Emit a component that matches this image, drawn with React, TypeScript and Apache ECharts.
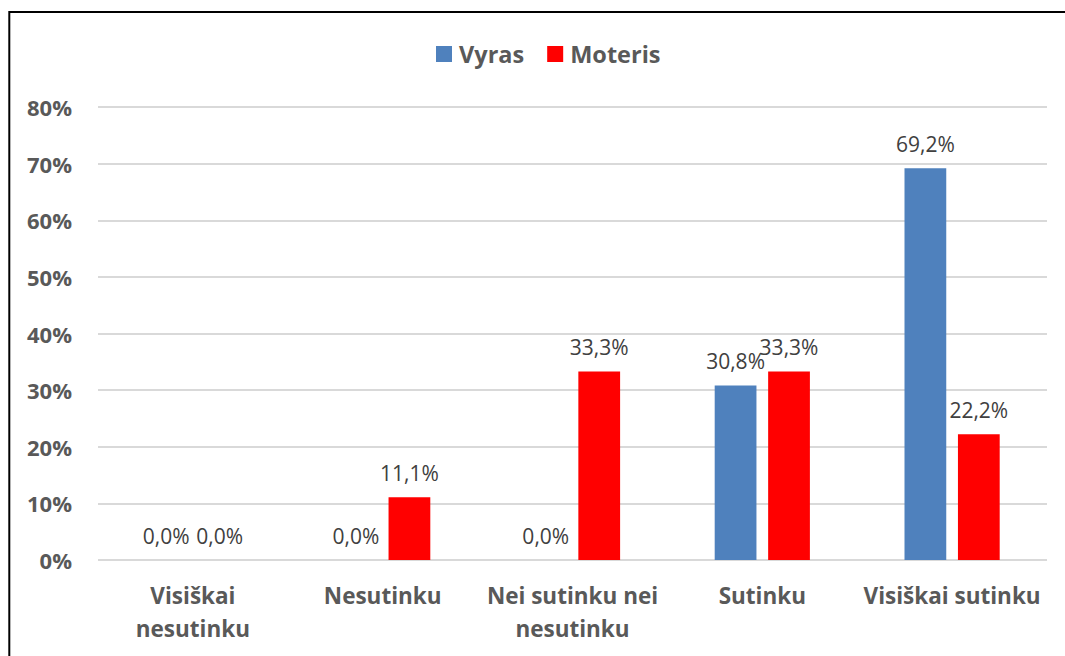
import React, { useEffect, useRef } from "react";
import * as echarts from "echarts";

const categories = [
  "Visiškai\nnesutinku",
  "Nesutinku",
  "Nei sutinku nei\nnesutinku",
  "Sutinku",
  "Visiškai sutinku",
];
const seriesNames = ["Vyras", "Moteris"];
const vyras = [0, 0, 0, 30.8, 69.2];
const moteris = [0, 11.1, 33.3, 33.3, 22.2];
const seriesColors = ["#4F81BD", "#FF0000"];

const FONT = "'Open Sans', 'Noto Sans', sans-serif";

export default function App() {
  const ref = useRef<HTMLDivElement>(null);
  useEffect(() => {
    if (!ref.current) return;
    const chart = echarts.init(ref.current, undefined, { renderer: "svg" });
    const fmt = (p: any) => Number(p.value).toFixed(1).replace(".", ",") + "%";
    const mk = (name: string, data: number[], color: string) => ({
      name,
      type: "bar",
      data,
      barWidth: "22%",
      barGap: "28%",
      itemStyle: { color },
      label: {
        show: true,
        position: "top",
        distance: 14,
        formatter: fmt,
        fontFamily: FONT,
        fontSize: 21,
        color: "#404040",
      },
    });
    chart.setOption({
      animation: false,
      textStyle: { fontFamily: FONT },
      legend: {
        top: 37,
        left: 431,
        itemWidth: 16,
        itemHeight: 16,
        itemGap: 23,
        icon: "rect",
        textStyle: {
          fontFamily: FONT,
          fontSize: 23.5,
          fontWeight: "bold",
          color: "#595959",
          padding: [0, 0, 0, 2],
        },
        data: seriesNames,
      },
      grid: { left: 98, right: 18, top: 107, bottom: 96, containLabel: false },
      xAxis: {
        type: "category",
        data: categories,
        axisLine: { show: false },
        axisTick: { show: false },
        axisLabel: {
          interval: 0,
          margin: 19,
          fontFamily: FONT,
          fontSize: 22.5,
          fontWeight: "bold",
          color: "#595959",
          lineHeight: 33,
        },
      },
      yAxis: {
        type: "value",
        min: 0,
        max: 80,
        interval: 10,
        axisLine: { show: false },
        axisTick: { show: false },
        splitLine: { lineStyle: { color: "#D9D9D9", width: 2 } },
        axisLabel: {
          margin: 26,
          formatter: (v: number) => v + "%",
          fontFamily: FONT,
          fontSize: 22,
          fontWeight: "bold",
          color: "#595959",
        },
      },
      graphic: [
        {
          type: "rect",
          shape: { x: 9.3, y: 12, width: 1200, height: 800 },
          style: { fill: "none", stroke: "#000", lineWidth: 2 },
          silent: true,
        },
      ],
      series: [
        mk(seriesNames[0], vyras, seriesColors[0]),
        mk(seriesNames[1], moteris, seriesColors[1]),
      ],
    });
    return () => chart.dispose();
  }, []);
  return (
    <div
      ref={ref}
      style={{ position: "fixed", left: 0, top: 0, width: 1065, height: 656, background: "#fff" }}
    />
  );
}
